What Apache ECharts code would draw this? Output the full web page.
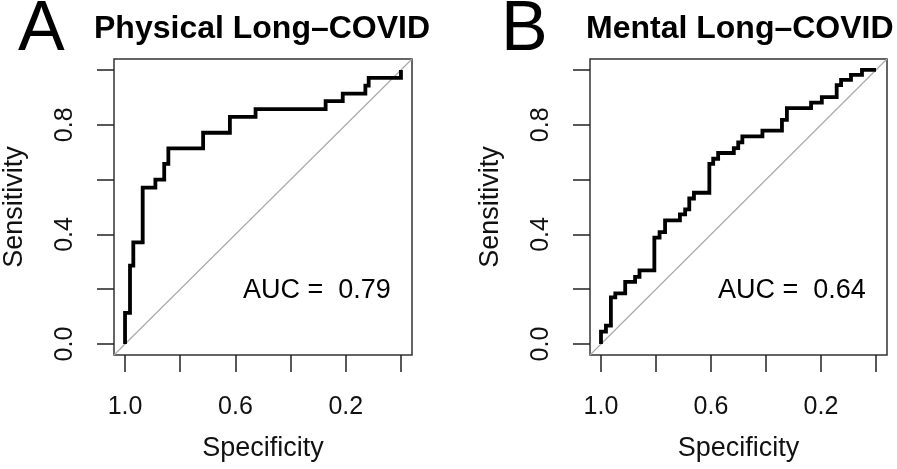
<!DOCTYPE html>
<html>
<head>
<meta charset="utf-8">
<script src="https://cdn.jsdelivr.net/npm/echarts@6/dist/echarts.min.js"></script>
<style>
  html, body { margin: 0; padding: 0; background: #fff; }
  #chart { width: 897px; height: 469px; }
</style>
</head>
<body>
<div id="chart"></div>
<script>
// ROC curve vertices (specificity, sensitivity)
const specA = [1, 1, 0.982, 0.982, 0.970, 0.970, 0.936, 0.936, 0.890, 0.890, 0.858, 0.858, 0.843, 0.843,
  0.717, 0.717, 0.620, 0.620, 0.527, 0.527, 0.273, 0.273, 0.211, 0.211, 0.129, 0.129, 0.117, 0.117, 0, 0]
const sensA = [0, 0.114, 0.114, 0.286, 0.286, 0.371, 0.371, 0.571, 0.571, 0.6, 0.6, 0.657, 0.657, 0.714,
  0.714, 0.771, 0.771, 0.829, 0.829, 0.857, 0.857, 0.886, 0.886, 0.914, 0.914, 0.943, 0.943, 0.971, 0.971, 1]

const specB = [1, 1, 0.982, 0.982, 0.964, 0.964, 0.948, 0.948, 0.912, 0.912, 0.876, 0.876, 0.860, 0.860,
  0.806, 0.806, 0.787, 0.787, 0.767, 0.767, 0.713, 0.713, 0.694, 0.694, 0.679, 0.679, 0.662, 0.662,
  0.606, 0.606, 0.592, 0.592, 0.574, 0.574, 0.517, 0.517, 0.501, 0.501, 0.486, 0.486, 0.413, 0.413,
  0.342, 0.342, 0.324, 0.324, 0.236, 0.236, 0.197, 0.197, 0.143, 0.143, 0.127, 0.127, 0.091, 0.091,
  0.051, 0.051, 0]
const sensB = [0, 0.045, 0.045, 0.067, 0.067, 0.170, 0.170, 0.185, 0.185, 0.227, 0.227, 0.245, 0.245, 0.269,
  0.269, 0.388, 0.388, 0.408, 0.408, 0.451, 0.451, 0.473, 0.473, 0.491, 0.491, 0.531, 0.531, 0.552,
  0.552, 0.657, 0.657, 0.676, 0.676, 0.697, 0.697, 0.715, 0.715, 0.736, 0.736, 0.758, 0.758, 0.779,
  0.779, 0.818, 0.818, 0.861, 0.861, 0.881, 0.881, 0.901, 0.901, 0.945, 0.945, 0.964, 0.964, 0.982,
  0.982, 1, 1]

const tickValues = [0, 0.2, 0.4, 0.6, 0.8, 1]
const xLabelValues = [1, 0.6, 0.2]
const yLabelValues = [0, 0.4, 0.8]
const panelTitles = ['Physical Long\u2013COVID', 'Mental Long\u2013COVID']
const panelLetters = ['A', 'B']
const aucValues = ['0.79', '0.64']

const font = '"Liberation Sans", Arial, Helvetica, sans-serif'

const toPairs = (xs, ys) => xs.map((x, i) => [x, ys[i]])

const grids = [
  { left: 114, top: 59, width: 298, height: 296 },
  { left: 590, top: 59, width: 297, height: 296 },
]

const makeX = (i) => ({
  gridIndex: i,
  type: 'value',
  inverse: true,
  min: -0.04,
  max: 1.04,
  splitLine: { show: false },
  axisLine: { show: false, onZero: false },
  axisTick: { show: true, customValues: tickValues, length: 17, lineStyle: { color: '#222', width: 1.5 } },
  axisLabel: {
    customValues: xLabelValues,
    formatter: (v) => v.toFixed(1),
    color: '#111', fontSize: 25, fontFamily: font, margin: 40,
  },
  name: 'Specificity',
  nameLocation: 'middle',
  nameGap: 80,
  nameTextStyle: { color: '#111', fontSize: 27, fontFamily: font },
})

const makeY = (i) => ({
  gridIndex: i,
  type: 'value',
  min: -0.04,
  max: 1.04,
  splitLine: { show: false },
  axisLine: { show: false, onZero: false },
  axisTick: { show: true, customValues: tickValues, length: 17, lineStyle: { color: '#222', width: 1.5 } },
  axisLabel: {
    customValues: yLabelValues,
    formatter: (v) => v.toFixed(1),
    rotate: 90,
    color: '#111', fontSize: 25, fontFamily: font, margin: 36,
  },
  name: 'Sensitivity',
  nameLocation: 'middle',
  nameGap: 86,
  nameTextStyle: { color: '#111', fontSize: 27, fontFamily: font },
})

const diagonal = (i) => ({
  type: 'line',
  xAxisIndex: i,
  yAxisIndex: i,
  data: [[1.04, -0.04], [-0.04, 1.04]],
  symbol: 'none',
  silent: true,
  lineStyle: { color: '#aaaaaa', width: 1.2 },
  z: 1,
})

const rocLine = (i, data) => ({
  type: 'line',
  xAxisIndex: i,
  yAxisIndex: i,
  data: data,
  symbol: 'none',
  lineStyle: { color: '#000', width: 3.8, join: 'miter' },
  z: 3,
})

const graphics = []
grids.forEach((g, i) => {
  graphics.push({
    type: 'text',
    x: i === 0 ? 18 : 501,
    y: 31,
    style: { text: panelLetters[i], fontSize: 70, fontFamily: font, fill: '#000', verticalAlign: 'middle' },
  })
  graphics.push({
    type: 'text',
    x: i === 0 ? 94 : 586,
    y: 29,
    style: { text: panelTitles[i], fontSize: 32, fontWeight: 'bold', fontFamily: font, fill: '#000', verticalAlign: 'middle' },
  })
  graphics.push({
    type: 'text',
    x: i === 0 ? 243 : 718,
    y: 291,
    style: { text: 'AUC =  ' + aucValues[i], fontSize: 27, fontFamily: font, fill: '#000', verticalAlign: 'middle' },
  })
})

const option = {
  animation: false,
  backgroundColor: '#fff',
  grid: grids.map((g) => Object.assign({ show: true, borderColor: '#333', borderWidth: 1.5, backgroundColor: 'transparent' }, g)),
  xAxis: [makeX(0), makeX(1)],
  yAxis: [makeY(0), makeY(1)],
  series: [
    diagonal(0),
    rocLine(0, toPairs(specA, sensA)),
    diagonal(1),
    rocLine(1, toPairs(specB, sensB)),
  ],
  graphic: graphics,
}

const myChart = echarts.init(document.getElementById('chart'))
myChart.setOption(option)
</script>
</body>
</html>
